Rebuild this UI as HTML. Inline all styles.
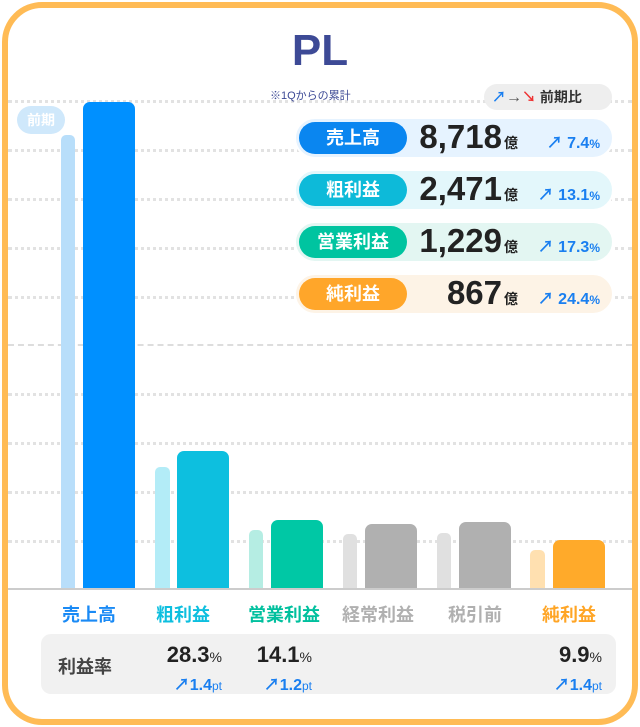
<!DOCTYPE html>
<html><head><meta charset="utf-8"><style>
*{margin:0;padding:0;box-sizing:border-box}
body{width:640px;height:727px;background:#fff;font-family:"Liberation Sans","Noto Sans CJK JP",sans-serif;position:relative;overflow:hidden}
.frame{position:absolute;left:2px;top:2px;width:636px;height:723px;border:6px solid #ffbb55;border-radius:40px;background:#fff}
.a{position:absolute}
.grid{position:absolute;left:8px;width:624px;height:0;border-top:3px dotted #e2e2e2}
.bar{position:absolute;border-radius:7px 7px 0 0}
.lbl{position:absolute;top:601px;font-size:18px;font-weight:bold;width:110px;text-align:center}
.row{position:absolute;left:294px;width:320px;height:42px;border-radius:21px;border:2px solid #fff}
.pill{position:absolute;left:3px;top:3px;width:108px;height:32px;border-radius:16px;color:#fff;font-weight:bold;font-size:18px;text-align:center;line-height:32px}
.num{position:absolute;right:94px;top:-1px;font-size:33px;font-weight:bold;color:#222;letter-spacing:0}
.num small{font-size:14px;margin-left:2px}
.pct{position:absolute;right:12px;top:10px;color:#1a7ff0;font-weight:bold;font-size:16px}
.pct small{font-size:12px}
.m{position:absolute;font-weight:bold;color:#222;font-size:22px;text-align:right}
.m small{font-size:14px;font-weight:normal}
.d{position:absolute;color:#1a7ff0;font-size:16px;font-weight:bold;text-align:right}
.d small{font-size:12px;font-weight:normal}
</style></head><body>
<div class="frame"></div>
<div class="grid" style="top:100px"></div>
<div class="grid" style="top:149px"></div>
<div class="grid" style="top:198px"></div>
<div class="grid" style="top:247px"></div>
<div class="grid" style="top:296px"></div>
<div class="grid" style="top:344px;border-top:2px dashed #ddd"></div>
<div class="grid" style="top:393px"></div>
<div class="grid" style="top:442px"></div>
<div class="grid" style="top:491px"></div>
<div class="grid" style="top:540px"></div>

<div class="a" style="left:0;width:640px;top:26px;text-align:center;font-size:44px;font-weight:bold;color:#3d4a96">PL</div>
<div class="a" style="left:270px;top:87px;font-size:11px;color:#3d4a96">※1Qからの累計</div>
<div class="a" style="left:484px;top:84px;width:128px;height:26px;border-radius:13px;background:#eee;font-size:14px;line-height:26px;color:#333;font-weight:bold;padding-left:8px"><span style="color:#1a7ff0">↗</span><span style="color:#555;font-size:16px">→</span><span style="color:#e33">↘</span> 前期比</div>

<div class="a" style="left:17px;top:106px;width:48px;height:28px;border-radius:14px;background:#cfe8fb;color:#fff;font-weight:bold;font-size:14px;text-align:center;line-height:28px">前期</div>

<div class="bar" style="left:61px;top:135px;width:14px;height:454px;background:#b8defa;border-radius:5px 5px 0 0"></div>
<div class="bar" style="left:83px;top:102px;width:52px;height:487px;background:#0090ff"></div>
<div class="bar" style="left:155px;top:467px;width:15px;height:122px;background:#b3ecf7;border-radius:5px 5px 0 0"></div>
<div class="bar" style="left:177px;top:451px;width:52px;height:138px;background:#0dbfdf"></div>
<div class="bar" style="left:249px;top:530px;width:14px;height:59px;background:#b5ede3;border-radius:5px 5px 0 0"></div>
<div class="bar" style="left:271px;top:520px;width:52px;height:69px;background:#00c8a5"></div>
<div class="bar" style="left:343px;top:534px;width:14px;height:55px;background:#e0e0e0;border-radius:5px 5px 0 0"></div>
<div class="bar" style="left:365px;top:524px;width:52px;height:65px;background:#b0b0b0"></div>
<div class="bar" style="left:437px;top:533px;width:14px;height:56px;background:#e0e0e0;border-radius:5px 5px 0 0"></div>
<div class="bar" style="left:459px;top:522px;width:52px;height:67px;background:#b0b0b0"></div>
<div class="bar" style="left:530px;top:550px;width:15px;height:39px;background:#ffe0b0;border-radius:5px 5px 0 0"></div>
<div class="bar" style="left:553px;top:540px;width:52px;height:49px;background:#ffaa2a"></div>
<div class="a" style="left:8px;top:588px;width:624px;height:2px;background:#ccc"></div>

<div class="lbl" style="left:34px;color:#1a8af5">売上高</div>
<div class="lbl" style="left:128px;color:#0dbfdf">粗利益</div>
<div class="lbl" style="left:229px;color:#00c09e">営業利益</div>
<div class="lbl" style="left:323px;color:#b0b0b0">経常利益</div>
<div class="lbl" style="left:420px;color:#b0b0b0">税引前</div>
<div class="lbl" style="left:514px;color:#ffa525">純利益</div>

<div class="a" style="left:41px;top:634px;width:575px;height:60px;border-radius:10px;background:#f1f1f1"></div>
<div class="a" style="left:58px;top:653px;font-size:18px;font-weight:bold;color:#444">利益率</div>
<div class="m" style="left:140px;top:642px;width:82px">28.3<small>%</small></div>
<div class="d" style="left:140px;top:671px;width:82px">↗1.4<small>pt</small></div>
<div class="m" style="left:230px;top:642px;width:82px">14.1<small>%</small></div>
<div class="d" style="left:230px;top:671px;width:82px">↗1.2<small>pt</small></div>
<div class="m" style="left:520px;top:642px;width:82px">9.9<small>%</small></div>
<div class="d" style="left:520px;top:671px;width:82px">↗1.4<small>pt</small></div>

<div class="row" style="top:117px;background:#e6f3ff"><div class="pill" style="background:#0a86f0">売上高</div><div class="num">8,718<small>億</small></div><div class="pct">↗ 7.4<small>%</small></div></div>
<div class="row" style="top:169px;background:#e3f7fb"><div class="pill" style="background:#0dbad9">粗利益</div><div class="num">2,471<small>億</small></div><div class="pct">↗ 13.1<small>%</small></div></div>
<div class="row" style="top:221px;background:#e3f6f2"><div class="pill" style="background:#00c4a0">営業利益</div><div class="num">1,229<small>億</small></div><div class="pct">↗ 17.3<small>%</small></div></div>
<div class="row" style="top:273px;background:#fdf3e6"><div class="pill" style="background:#ffa62a">純利益</div><div class="num">867<small>億</small></div><div class="pct">↗ 24.4<small>%</small></div></div>
</body></html>
